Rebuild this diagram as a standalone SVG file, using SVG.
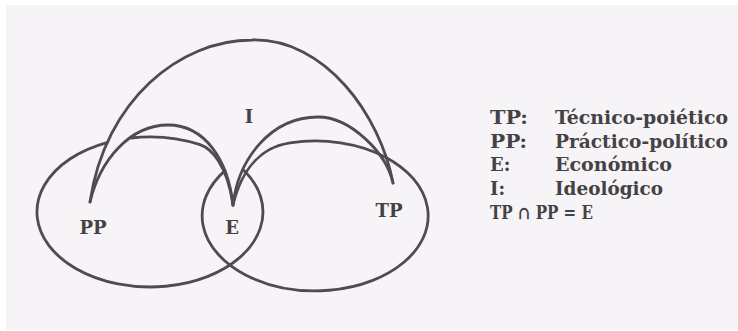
<svg xmlns="http://www.w3.org/2000/svg" width="738" height="331" viewBox="0 0 738 331">
  <style>
    .ln { fill: none; stroke: #4f4b4f; stroke-width: 2.8; stroke-linecap: round; stroke-linejoin: round; }
    .lbl { font-family: "DejaVu Serif", "Liberation Serif", serif; font-weight: bold; font-size: 18px; fill: #454245; text-anchor: middle; }
    .lg { font-family: "DejaVu Serif", "Liberation Serif", serif; font-weight: bold; font-size: 18px; fill: #454245; }
  </style>
  <rect x="0" y="0" width="738" height="331" fill="#ffffff"/>
  <rect x="6" y="5" width="732" height="325" fill="#f6f4f6"/>

  <g id="node-PP">
    <path class="ln" d="M107,142.6 A113,75 0 1 0 243,169.4"/>
    <path class="ln" d="M131,138 A113,75 0 0 1 200,144.7 C210,148 227,163 233,205"/>
    <text class="lbl" x="93" y="234">PP</text>
  </g>

  <g id="node-TP">
    <path class="ln" d="M225,170.6 A113,75 0 1 0 386,157.4 A113,75 0 0 0 290,142.9 C262,147 242,168 233,205"/>
    <text class="lbl" x="389" y="217">TP</text>
  </g>

  <g id="node-E">
    <text class="lbl" x="232" y="234">E</text>
  </g>

  <g id="node-I">
    <path class="ln" d="M90,202 C105,100 180,40 252,40 C325,38 380,115 393,183"/>
    <path class="ln" d="M90,202 C100,160 130,125 168,125 C205,125 228,160 233,205"/>
    <path class="ln" d="M233,205 C238,160 270,117 318,117 C350,117 386,152 393,183"/>
    <text class="lbl" x="249" y="123">I</text>
  </g>

  <g id="connectors"></g>

  <g id="legend">
    <text class="lg" x="490" y="124" textLength="38" lengthAdjust="spacingAndGlyphs">TP:</text>
    <text class="lg" x="555" y="124" textLength="173" lengthAdjust="spacingAndGlyphs">Técnico-poiético</text>
    <text class="lg" x="490" y="148" textLength="37" lengthAdjust="spacingAndGlyphs">PP:</text>
    <text class="lg" x="555" y="148" textLength="173" lengthAdjust="spacingAndGlyphs">Práctico-político</text>
    <text class="lg" x="490" y="171">E:</text>
    <text class="lg" x="555" y="171" textLength="117" lengthAdjust="spacingAndGlyphs">Económico</text>
    <text class="lg" x="490" y="195">I:</text>
    <text class="lg" x="555" y="195" textLength="108" lengthAdjust="spacingAndGlyphs">Ideológico</text>
    <text class="lg" x="490" y="219" textLength="103" lengthAdjust="spacingAndGlyphs">TP ∩ PP = E</text>
  </g>
</svg>
